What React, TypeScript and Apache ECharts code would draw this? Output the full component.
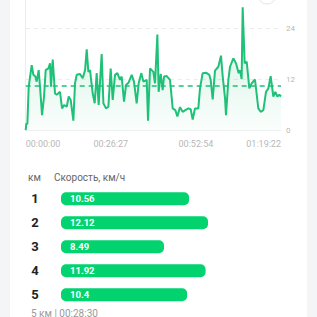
import React, { useEffect, useRef } from "react";
import * as echarts from "echarts";

// Speed trace (seconds from start, km/h)
const times = [0, 12, 31, 56, 112, 143, 180, 205, 242, 267, 305, 342, 373, 423, 454, 472, 504, 547, 578, 640, 678, 715, 765, 802, 839, 889, 920, 951, 1013, 1063, 1107, 1138, 1169, 1200, 1250, 1287, 1324, 1361, 1417, 1449, 1498, 1542, 1585, 1623, 1666, 1710, 1759, 1790, 1834, 1871, 1921, 1977, 2020, 2070, 2107, 2157, 2195, 2257, 2282, 2319, 2381, 2412, 2456, 2480, 2518, 2555, 2580, 2630, 2692, 2742, 2791, 2829, 2878, 2928, 2978, 3034, 3077, 3115, 3158, 3220, 3251, 3301, 3363, 3425, 3450, 3488, 3531, 3593, 3643, 3674, 3718, 3736, 3780, 3811, 3873, 3923, 3972, 3997, 4028, 4047, 4084, 4122, 4171, 4215, 4277, 4339, 4383, 4433, 4482, 4526, 4569, 4619, 4656, 4694, 4731, 4762];
const speeds = [0.1, 1.7, 1.5, 10.3, 15.4, 13.1, 12.7, 11.5, 14.2, 10.3, 3.6, 8.0, 14.2, 14.6, 15.8, 10.3, 16.7, 8.7, 8.4, 9.1, 5.2, 6.0, 5.6, 8.0, 7.2, 2.3, 11.1, 13.1, 13.3, 12.3, 14.2, 19.1, 13.8, 14.2, 8.7, 6.4, 13.5, 6.0, 18.0, 6.4, 5.2, 5.6, 14.6, 7.2, 13.1, 13.5, 11.9, 12.7, 6.8, 10.7, 11.3, 13.1, 11.5, 6.4, 11.1, 13.5, 11.5, 11.9, 2.3, 14.6, 13.8, 11.1, 22.6, 9.1, 13.3, 9.5, 12.7, 12.8, 11.9, 5.2, 4.8, 3.3, 5.5, 4.4, 4.8, 5.2, 5.0, 2.6, 5.2, 5.2, 9.9, 13.5, 13.6, 13.1, 11.9, 7.3, 14.1, 15.0, 17.6, 12.8, 7.6, 3.6, 11.9, 15.0, 17.0, 15.8, 13.5, 14.2, 12.1, 29.0, 15.8, 16.2, 9.9, 11.1, 12.0, 5.2, 4.4, 4.8, 9.1, 9.9, 12.8, 8.0, 9.1, 8.0, 8.4, 8.0];
const avgSpeed = 10.55;
const totalSeconds = 4762;
const speedTicks = [0, 12, 24];

// Per-km splits
const kmLabels = ["1", "2", "3", "4", "5"];
const kmSpeeds = [10.56, 12.12, 8.49, 11.92, 10.4];
const footerText = "5 км | 00:28:30";

const pad = (n: number) => String(n).padStart(2, "0");
const fmtTime = (s: number) => {
  const t = Math.floor(s + 1e-6);
  const h = Math.floor(t / 3600);
  const m = Math.floor((t % 3600) / 60);
  const sec = t % 60;
  return `${pad(h)}:${pad(m)}:${pad(sec)}`;
};

const OFF = 40; // container shifted up so the chart top is cropped
const FONT = "Roboto, 'Noto Sans', sans-serif";

export default function App() {
  const ref = useRef<HTMLDivElement>(null);
  useEffect(() => {
    if (!ref.current) return;
    const chart = echarts.init(ref.current, null, { renderer: "svg" });
    const lineData = times.map((t, i) => [t, speeds[i]]);
    chart.setOption({
      animation: false,
      backgroundColor: "#f4f5f7",
      textStyle: { fontFamily: FONT },
      graphic: [
        { type: "rect", z: -10, shape: { x: 10, y: 0, width: 297, height: 357 + 10 }, style: { fill: "#ffffff" } },
        { type: "circle", shape: { cx: 267, cy: OFF - 5, r: 9 }, style: { fill: "#ffffff", stroke: "#e4e4e4", lineWidth: 1 } },
        { type: "text", x: 28, y: OFF + 177, style: { text: "км", fill: "#666", fontSize: 10, fontFamily: FONT, verticalAlign: "middle" } },
        { type: "text", x: 54, y: OFF + 177, style: { text: "Скорость, км/ч", fill: "#666", fontSize: 10, fontFamily: FONT, verticalAlign: "middle" } },
        { type: "text", x: 31, y: OFF + 313, style: { text: footerText, fill: "#9a9a9a", fontSize: 10, fontFamily: FONT, verticalAlign: "middle" } },
      ],
      grid: [
        { left: 25.7, right: 36, top: OFF - 22.5, height: 153, containLabel: false },
        { left: 61, width: 242.6, top: OFF + 186.8, height: 120, containLabel: false },
      ],
      xAxis: [
        {
          type: "value",
          gridIndex: 0,
          min: 0,
          max: totalSeconds,
          interval: totalSeconds / 3,
          axisLine: { show: true, onZero: false, lineStyle: { color: "#f0f0f0" } },
          axisTick: { show: false },
          splitLine: { show: false },
          axisLabel: {
            formatter: (v: number) => fmtTime(v),
            color: "#b8b8b8",
            fontSize: 9,
            margin: 9,
            alignMinLabel: "left",
            alignMaxLabel: "right",
            showMinLabel: true,
            showMaxLabel: true,
          },
        },
        { type: "value", gridIndex: 1, min: 0, max: 20, show: false },
      ],
      yAxis: [
        {
          type: "value",
          gridIndex: 0,
          position: "right",
          min: 0,
          max: 36,
          interval: 12,
          axisLine: { show: true, lineStyle: { color: "#ececec" } },
          axisTick: { show: false },
          axisLabel: {
            color: "#b8b8b8",
            fontSize: 8,
            margin: 5,
            formatter: (v: number) => (speedTicks.includes(v) ? String(v) : ""),
          },
          splitLine: { show: true, lineStyle: { color: "#ebebeb", type: [4, 4], width: 1 } },
        },
        {
          type: "category",
          gridIndex: 1,
          data: kmLabels,
          inverse: true,
          axisLine: { show: false },
          axisTick: { show: false },
          axisLabel: { color: "#222", fontSize: 13, fontWeight: "bold", align: "center", margin: 26 },
        },
      ],
      series: [
        {
          type: "line",
          xAxisIndex: 0,
          yAxisIndex: 0,
          data: lineData,
          showSymbol: false,
          symbol: "none",
          lineStyle: { color: "#1fc077", width: 2 },
          itemStyle: { color: "#1fc077" },
          areaStyle: {
            color: new echarts.graphic.LinearGradient(0, 0, 0, 1, [
              { offset: 0, color: "rgba(31,192,119,0.3)" },
              { offset: 1, color: "rgba(31,192,119,0.03)" },
            ]),
          },
          markLine: {
            silent: true,
            symbol: "none",
            label: { show: false },
            lineStyle: { color: "#1fc077", type: [5, 4], width: 1.5 },
            data: [{ yAxis: avgSpeed }],
          },
        },
        {
          type: "bar",
          xAxisIndex: 1,
          yAxisIndex: 1,
          data: kmSpeeds,
          barWidth: 13,
          itemStyle: { color: "#02d36f", borderRadius: 5 },
          label: {
            show: true,
            position: "insideLeft",
            distance: 9,
            color: "#ffffff",
            fontSize: 9.5,
            fontWeight: "bold",
            formatter: (p: any) => String(p.value),
          },
        },
      ],
    });
    return () => chart.dispose();
  }, []);
  return (
    <div
      ref={ref}
      style={{ position: "fixed", left: 0, top: -OFF, width: 317, height: 317 + OFF }}
    />
  );
}
